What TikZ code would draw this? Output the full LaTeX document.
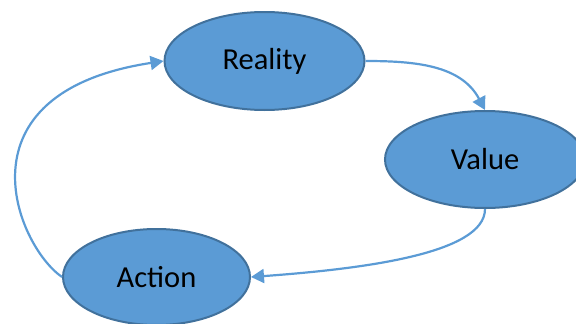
\documentclass[tikz,border=0pt]{standalone}
\usepackage{fontspec}
\setmainfont{Carlito}
\usetikzlibrary{shapes.geometric,arrows.meta}
\definecolor{stateblue}{HTML}{5B9BD5}
\definecolor{stateedge}{HTML}{41719C}
\tikzset{
  state/.style={ellipse, draw=stateedge, line width=2pt, fill=stateblue,
    inner sep=0pt, font=\fontsize{30.5}{36}\selectfont, text=black},
  conn/.style={draw=stateblue, line width=2.2pt,
    -{Triangle[length=13pt,width=14pt]}}
}
\begin{document}
\begin{tikzpicture}[x=1pt,y=-1pt]
  \useasboundingbox (0,0) rectangle (576,324);
  % the three states of the cycle
  \node[state, minimum width=200pt, minimum height=98pt] (reality) at (264.5,61) {Reality};
  \node[state, minimum width=200pt, minimum height=97pt] (value) at (485,159.5) {Value};
  \node[state, minimum width=187pt, minimum height=96pt] (action) at (156.5,277) {Action};
  % connectors around the cycle
  \draw[conn] (reality.east) to[out=0,in=118] (value.north);
  \draw[conn] (value.south) .. controls +(0,45) and +(110,-8) .. (action.east);
  \draw[conn] (action.west) .. controls +(-45.7,-31.7) and +(-210,32) .. (reality.west);
\end{tikzpicture}
\end{document}
